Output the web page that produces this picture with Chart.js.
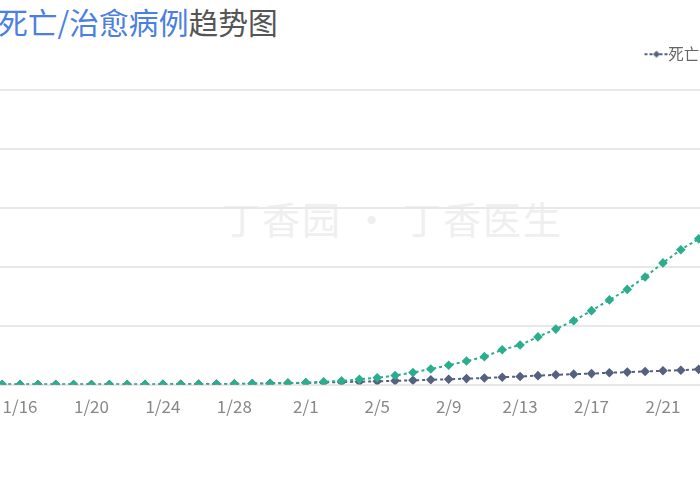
<!DOCTYPE html>
<html>
<head>
<meta charset="utf-8">
<script src="https://cdn.jsdelivr.net/npm/chart.js@4.4.1/dist/chart.umd.min.js"></script>
<style>
	html,body{margin:0;padding:0;background:#fff;overflow:hidden;width:700px;height:500px;position:relative;}
	#title{position:absolute;left:-2px;top:-1px;font-family:"Noto Sans CJK SC",sans-serif;font-size:29.8px;color:#555;white-space:nowrap;}
	#title span{color:#4a80e2;}
	#mark{position:absolute;left:222px;top:190px;font-family:"Noto Sans CJK SC",sans-serif;font-size:38px;color:#efefef;white-space:nowrap;letter-spacing:2px;}
	#wrap{position:absolute;left:-40px;top:0;width:921px;height:500px;}
</style>
</head>
<body>
<div id="mark">丁香园 · 丁香医生</div>
<div id="title"><span>死亡/治愈病例</span>趋势图</div>
<div id="wrap"><canvas id="trendChart"></canvas></div>
<script>
//날짜 라벨 (1/15 ~ 2/23)
var dates = ['1/15','1/16','1/17','1/18','1/19','1/20','1/21','1/22','1/23','1/24',
	'1/25','1/26','1/27','1/28','1/29','1/30','1/31','2/1','2/2','2/3',
	'2/4','2/5','2/6','2/7','2/8','2/9','2/10','2/11','2/12','2/13',
	'2/14','2/15','2/16','2/17','2/18','2/19','2/20','2/21','2/22','2/23'];
//사망
var deathCount = [2,2,2,3,3,6,9,17,25,41,
	56,80,106,132,170,213,259,304,361,425,
	490,563,636,722,811,908,1016,1113,1259,1380,
	1523,1665,1770,1868,2004,2118,2236,2345,2442,2592];
//치유
var cureCount = [12,12,12,17,17,25,28,28,34,38,
	49,51,60,103,124,171,243,328,475,632,
	892,1153,1540,2050,2649,3281,3996,4740,5911,6723,
	8096,9419,10844,12552,14376,16155,18264,20659,22888,24734];
//x축에 표시할 라벨 index (4일 간격)
var tickIndex = [1,5,9,13,17,21,25,29,33,37];
var yTicks = [0,10000,20000,30000,40000,50000];

function toPoints(arr){
	return arr.map(function(v,i){ return {x:i, y:v}; });
}
//범례 마커 (점선 + 마름모), 오른쪽으로 붙여서 그림
function legendMarker(color){
	var c = document.createElement('canvas');
	c.width = 40; c.height = 10;
	var ctx = c.getContext('2d');
	ctx.strokeStyle = color;
	ctx.lineWidth = 2;
	ctx.setLineDash([3,2]);
	ctx.beginPath(); ctx.moveTo(16,5); ctx.lineTo(40,5); ctx.stroke();
	ctx.fillStyle = color;
	ctx.beginPath(); ctx.moveTo(28,1.5); ctx.lineTo(31.5,5); ctx.lineTo(28,8.5); ctx.lineTo(24.5,5); ctx.closePath(); ctx.fill();
	return c;
}
//범례와 차트 사이 간격
var legendGap = {
	id: 'legendGap',
	beforeInit: function(chart){
		var fit = chart.legend.fit;
		chart.legend.fit = function(){
			fit.bind(chart.legend)();
			this.height += 18;
		};
	}
};

var blue = '#56607f';
var green = '#2aae8e';

var chart = new Chart(document.getElementById('trendChart'), {
	type: 'line',
	data: {
		datasets: [
			{
				label: '死亡病例',
				data: toPoints(deathCount),
				borderColor: blue,
				backgroundColor: blue,
				borderWidth: 2,
				borderDash: [3,3],
				pointStyle: 'rectRot',
				pointRadius: 4.8,
				pointBorderWidth: 0,
				order: 1,
				legendMarker: legendMarker(blue)
			},
			{
				label: '治愈病例',
				data: toPoints(cureCount),
				borderColor: green,
				backgroundColor: green,
				borderWidth: 2,
				borderDash: [3,3],
				pointStyle: 'rectRot',
				pointRadius: 4.8,
				pointBorderWidth: 0,
				order: 0,
				legendMarker: legendMarker(green)
			}
		]
	},
	options: {
		responsive: true,
		maintainAspectRatio: false,
		animation: false,
		layout: { padding: { top: 18, bottom: 71, left: 0, right: 0 } },
		plugins: {
			legend: {
				position: 'top',
				align: 'end',
				labels: {
					usePointStyle: true,
					pointStyleWidth: 24,
					padding: 28.5,
					color: '#666',
					font: { family: '"Noto Sans CJK SC", sans-serif', size: 15.5 },
					sort: function(a,b){ return a.datasetIndex - b.datasetIndex; },
					generateLabels: function(c){
						var items = Chart.defaults.plugins.legend.labels.generateLabels(c);
						items.forEach(function(it){
							it.pointStyle = c.data.datasets[it.datasetIndex].legendMarker;
						});
						return items;
					}
				}
			},
			tooltip: { enabled: false }
		},
		scales: {
			x: {
				type: 'linear',
				min: -2.094,
				max: 48.94,
				afterBuildTicks: function(s){ s.ticks = tickIndex.map(function(v){ return {value:v}; }); },
				grid: { display: false, drawTicks: false },
				border: { display: false },
				ticks: {
					autoSkip: false,
					maxRotation: 0,
					padding: 12,
					color: '#888',
					font: { family: '"Noto Sans CJK SC", sans-serif', size: 17 },
					callback: function(v){ return dates[v]; }
				}
			},
			y: {
				min: 0,
				max: 50000,
				afterBuildTicks: function(s){ s.ticks = yTicks.map(function(v){ return {value:v}; }); },
				grid: { color: '#e8e8e8', lineWidth: 2, drawTicks: false },
				border: { display: false },
				ticks: { display: false }
			}
		}
	},
	plugins: [legendGap]
});
</script>
</body>
</html>
